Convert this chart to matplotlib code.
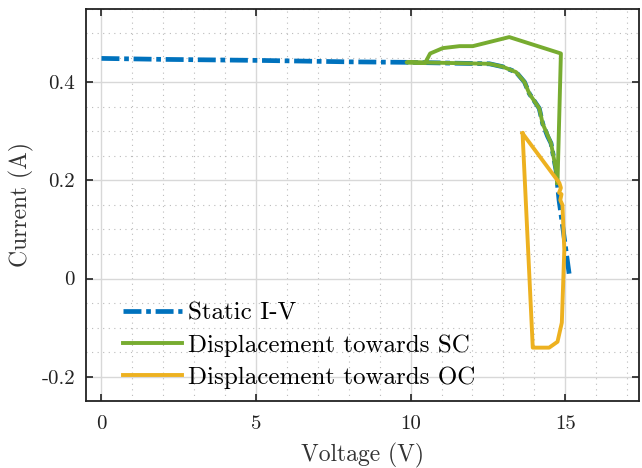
import matplotlib
matplotlib.use('Agg')
import matplotlib.pyplot as plt
import matplotlib.ticker as ticker

plt.rcParams['font.family'] = 'serif'
plt.rcParams['font.serif'] = ['cmr10']
plt.rcParams['mathtext.fontset'] = 'cm'
plt.rcParams['axes.unicode_minus'] = False

# Static I-V curve
static_v = [0.0, 2.0, 5.0, 8.0, 9.87, 12.55, 12.98, 13.41, 13.68, 13.84, 14.16, 14.27,
            14.43, 14.54, 14.70, 14.80, 15.13]
static_i = [0.449, 0.447, 0.445, 0.442, 0.441, 0.438, 0.432, 0.421, 0.401, 0.377, 0.347, 0.316,
            0.290, 0.276, 0.222, 0.160, 0.008]

# Displacement towards short circuit
sc_v = [14.75, 14.70, 14.54, 14.27, 14.16, 13.84, 13.68, 13.41, 12.98, 12.55, 11.0, 9.87,
        10.47, 10.63, 11.04, 11.58, 12.01, 13.19, 14.86, 14.75]
sc_i = [0.195, 0.222, 0.276, 0.316, 0.347, 0.377, 0.401, 0.421, 0.432, 0.438, 0.440, 0.441,
        0.440, 0.459, 0.470, 0.474, 0.474, 0.4925, 0.459, 0.195]

# Displacement towards open circuit
oc_v = [13.62, 14.81, 14.86, 14.80, 14.88, 14.84, 14.91, 14.97, 14.89, 14.75, 14.48, 13.95, 13.62]
oc_i = [0.296, 0.195, 0.185, 0.175, 0.172, 0.160, 0.150, 0.059, -0.090, -0.129, -0.141, -0.141, 0.296]

blue = '#0072BD'
green = '#77AC30'
orange = '#EDB120'

fig = plt.figure(figsize=(6.42, 4.68), dpi=100)
ax = fig.add_axes([0.134, 0.143, 0.862, 0.838])

ax.plot(static_v, static_i, color=blue, linewidth=3.4, linestyle=(0, (3.8, 1.0, 1.0, 1.0)),
        label='Static I-V', zorder=3)
ax.plot(sc_v, sc_i, color=green, linewidth=2.8, label='Displacement towards SC', zorder=4)
ax.plot(oc_v, oc_i, color=orange, linewidth=2.8, label='Displacement towards OC', zorder=5)

ax.set_xlim(-0.5, 17.4)
ax.set_ylim(-0.25, 0.55)
ax.xaxis.set_major_locator(ticker.MultipleLocator(5))
ax.xaxis.set_minor_locator(ticker.MultipleLocator(1))
ax.set_yticks([-0.2, 0, 0.2, 0.4])
ax.set_yticklabels(['-0.2', '0', '0.2', '0.4'])
ax.yaxis.set_minor_locator(ticker.MultipleLocator(0.05))

ax.grid(which='major', color='#d8d8d8', linewidth=1.0, linestyle='-')
ax.grid(which='minor', color='#bbbbbb', linewidth=0.8, linestyle=(0, (1, 4)))
ax.set_axisbelow(True)

ax.tick_params(which='major', direction='in', length=5, width=1.2, top=True, right=True,
               labelsize=15, colors='#222222', pad=8)
ax.tick_params(axis='x', which='major', pad=10)
ax.tick_params(which='minor', length=0, top=True, right=True)
for s in ax.spines.values():
    s.set_linewidth(1.3)
    s.set_color('#222222')

ax.set_xlabel('Voltage (V)', fontsize=17, color='#333333', labelpad=7)
ax.set_ylabel('Current (A)', fontsize=17, color='#333333', labelpad=5)

ax.legend(loc='lower left', bbox_to_anchor=(0.053, 0.012), frameon=False, fontsize=18,
          handlelength=2.36, labelspacing=0.38, borderaxespad=0.0, handletextpad=0.23,
          borderpad=0.3)

fig.savefig('out.png', dpi=100)
